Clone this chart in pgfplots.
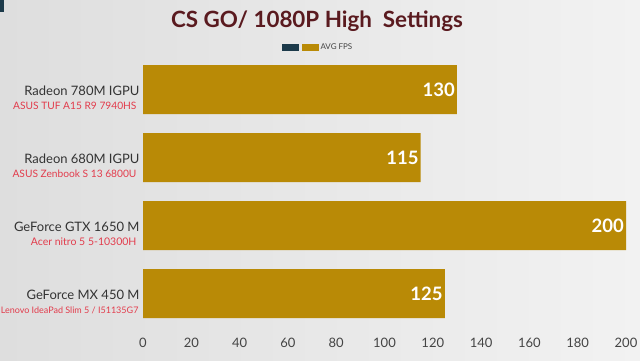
\documentclass[border=0pt]{standalone}
\usepackage{pgfplots}
\pgfplotsset{compat=1.18}
\usepackage{fontspec}
\setmainfont{Lato}
\definecolor{gold}{HTML}{B98A06}
\definecolor{navy}{HTML}{1C3A4A}
\definecolor{titlered}{HTML}{5A1A1F}
\definecolor{subred}{HTML}{E23C4C}
\definecolor{lab}{HTML}{333333}
\definecolor{ticklab}{HTML}{444444}
\begin{document}
\begin{tikzpicture}[x=1pt,y=1pt]
\shade[left color={rgb,255:red,222;green,222;blue,222}, right color={rgb,255:red,242;green,242;blue,242}] (0,0) rectangle (640,360);
\fill[navy] (0,348) rectangle (4,360);
\node[font=\fontsize{22.4}{26}\selectfont\bfseries, text=titlered] at (317,339) {CS GO/ 1080P High\ \ Settings};
\begin{axis}[at={(143pt,32.5pt)}, anchor=south west, scale only axis,
  width=483pt, height=272pt,
  xbar, bar width=49pt,
  xmin=0, xmax=200, ymin=-0.5, ymax=3.5,
  ytick={0,1,2,3},
  yticklabels={
    {GeForce MX 450 M\\{\fontsize{9}{11}\selectfont\color{subred}Lenovo IdeaPad Slim 5 / I51135G7\hspace*{1pt}}},
    {GeForce GTX 1650 M\\{\fontsize{10.5}{12}\selectfont\color{subred}Acer nitro 5 5-10300H\hspace*{3pt}}},
    {Radeon 680M IGPU\\{\fontsize{10.2}{12}\selectfont\color{subred}ASUS Zenbook S 13 6800U\hspace*{3pt}}},
    {Radeon 780M IGPU\\{\fontsize{10.2}{12}\selectfont\color{subred}ASUS TUF A15 R9 7940HS\hspace*{3pt}}}},
  yticklabel style={align=right, font=\fontsize{13}{14}\selectfont, text=lab, yshift=-8.5pt, xshift=0pt},
  xtick distance=20,
  xticklabel style={font=\fontsize{13}{15}\selectfont, text=ticklab, yshift=-7pt},
  /pgf/number format/assume math mode=true,
  axis line style={draw=none}, major tick length=0pt,
  nodes near coords,
  every node near coord/.append style={anchor=east, text=white, font=\fontsize{18.5}{20}\selectfont\bfseries, inner sep=1pt, xshift=-1pt},
  legend columns=2,
  legend style={draw=none, fill=none, at={(0.2878,1.029)}, anchor=west, inner sep=0pt, outer sep=0pt,
    font=\fontsize{8}{9}\selectfont, text=ticklab,
    nodes={inner sep=1.5pt},
    /tikz/every even column/.style={column sep=0pt}},
  legend image code/.code={\fill[#1,draw=none] (0pt,-3.75pt) rectangle (17pt,3.75pt);},
]
\addlegendimage{fill=navy, draw=none}
\addlegendentry{}
\addplot[fill=gold, draw=none] coordinates {(125,0) (200,1) (115,2) (130,3)};
\addlegendentry{AVG FPS}
\end{axis}
\pgfresetboundingbox
\path[use as bounding box] (0,0) rectangle (640,360);
\end{tikzpicture}
\end{document}
